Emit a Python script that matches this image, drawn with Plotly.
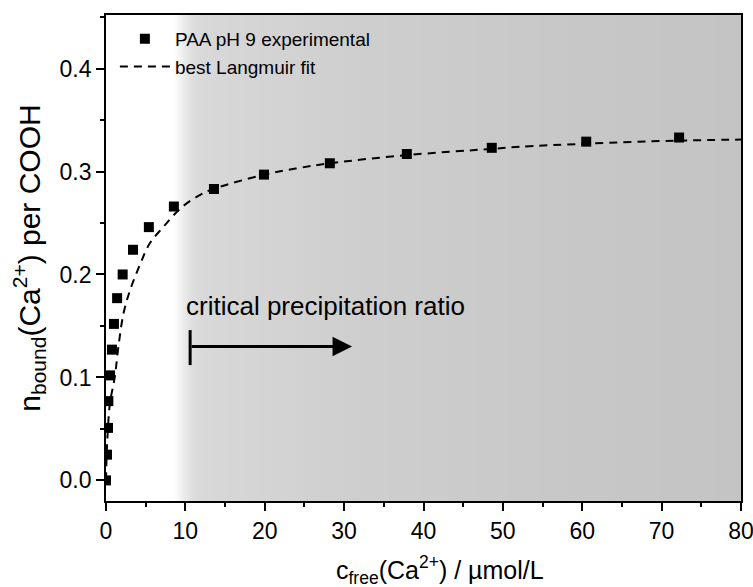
import plotly.graph_objects as go

# ---------------- data ----------------
c_free_exp = [0.0, 0.13, 0.25, 0.3, 0.5, 0.75, 1.0, 1.4, 2.1, 3.4, 5.4, 8.55,
              13.6, 19.9, 28.2, 37.9, 48.6, 60.5, 72.2]
n_bound_exp = [0.0, 0.025, 0.051, 0.077, 0.102, 0.127, 0.152, 0.177, 0.200,
               0.224, 0.246, 0.266, 0.283, 0.297, 0.308, 0.317, 0.323, 0.329, 0.333]
n_bound_err = [0.001, 0.001, 0.001, 0.001, 0.001, 0.001, 0.001, 0.001, 0.001,
               0.001, 0.001, 0.001, 0.002, 0.002, 0.002, 0.002, 0.003, 0.003, 0.003]

# best Langmuir fit
c_fit = [0.0, 0.16, 0.5, 1.1, 1.55, 2.2, 3.0, 4.3, 5.5, 7.2, 9.5, 11.8, 13.5,
         20.0, 24.4, 28.2, 38.0, 48.6, 52.1, 60.5, 72.0, 80.0]
n_fit = [0.0, 0.039, 0.075, 0.100, 0.129, 0.162, 0.184, 0.210, 0.230, 0.246,
         0.265, 0.277, 0.283, 0.297, 0.3035, 0.308, 0.316, 0.322, 0.324, 0.327,
         0.330, 0.331]

# background shading (grey level vs c_free)
shade_x = [0, 8.3, 8.8, 9.3, 9.8, 10.3, 10.8, 11.8, 14.0, 20.0, 30.0, 45.0, 60.0, 80.0]
shade_level = [255, 255, 250, 242, 234, 227, 222, 217, 215, 212, 207, 203, 199, 196]

critical_ratio_x = 10.6
arrow_end_x = 31.0

x_ticks = [0, 10, 20, 30, 40, 50, 60, 70, 80]
y_ticks = [0.0, 0.1, 0.2, 0.3, 0.4]

X_RANGE = [0, 80]
Y_RANGE = [-0.02, 0.452]

FONT = "Liberation Sans, Arial, sans-serif"

fig = go.Figure()

fig.add_trace(go.Heatmap(
    x=shade_x,
    y=Y_RANGE,
    z=[shade_level, shade_level],
    zmin=190, zmax=255,
    colorscale=[[0, "rgb(190,190,190)"], [1, "rgb(255,255,255)"]],
    zsmooth="best", showscale=False, hoverinfo="skip", showlegend=False,
))

fig.add_trace(go.Scatter(
    x=c_free_exp, y=n_bound_exp, mode="markers",
    name="PAA pH 9 experimental",
    marker=dict(symbol="square", size=10, color="black"),
    error_y=dict(type="data", array=n_bound_err, color="black", thickness=1.5, width=4),
    legendgroup="a",
))

fig.add_trace(go.Scatter(
    x=c_fit, y=n_fit, mode="lines", line_shape="spline",
    name="best Langmuir fit",
    line=dict(color="black", width=2, dash="8px,6px"),
    legendgroup="b",
))

# arrow for critical precipitation ratio
fig.add_annotation(
    x=arrow_end_x, y=0.13, ax=critical_ratio_x, ay=0.13,
    xref="x", yref="y", axref="x", ayref="y",
    text="", showarrow=True, arrowhead=2, arrowsize=1.3, arrowwidth=3,
    arrowcolor="black", standoff=0, startstandoff=0,
)
fig.add_shape(type="line", x0=critical_ratio_x, x1=critical_ratio_x,
              y0=0.112, y1=0.146, xref="x", yref="y",
              line=dict(color="black", width=3))
fig.add_annotation(
    x=critical_ratio_x - 0.75, y=0.169, xref="x", yref="y",
    text="critical precipitation ratio", showarrow=False,
    xanchor="left", yanchor="middle",
    font=dict(family=FONT, size=26, color="black"),
)

# x-axis title (placed as annotation to match horizontal offset)
fig.add_annotation(
    x=0.526, y=-0.142, xref="paper", yref="paper",
    text="c<sub>free</sub>(Ca<sup>2+</sup>) / µmol/L", showarrow=False,
    xanchor="center", yanchor="middle",
    font=dict(family=FONT, size=25, color="black"),
)

axis_common = dict(
    showline=True, linecolor="black", linewidth=1.8, mirror=True,
    ticks="outside", ticklen=8, tickwidth=1.5, tickcolor="black",
    showgrid=False, zeroline=False, automargin=False,
    ticklabeloverflow="allow",
    tickfont=dict(family=FONT, size=23, color="black"),
)

fig.update_xaxes(
    range=X_RANGE, tickvals=x_ticks, ticktext=[str(v) for v in x_ticks],
    minor=dict(ticks="outside", ticklen=4, dtick=5, tickcolor="black", tickwidth=1.5),
    **axis_common,
)
fig.update_yaxes(
    range=Y_RANGE, tickvals=y_ticks, ticktext=[f"{v:.1f}" for v in y_ticks],
    minor=dict(ticks="outside", ticklen=4, dtick=0.05, tickcolor="black", tickwidth=1.5),
    title=dict(text="n<sub>bound</sub>(Ca<sup>2+</sup>) per COOH",
               font=dict(family=FONT, size=30, color="black"), standoff=10),
    **axis_common,
)

fig.update_layout(
    width=753, height=587,
    margin=dict(l=106, r=12, t=15, b=86),
    paper_bgcolor="white", plot_bgcolor="white",
    font=dict(family=FONT, color="black"),
    showlegend=True,
    legend=dict(x=0.014, y=0.99, xanchor="left", yanchor="top",
                bgcolor="rgba(0,0,0,0)", borderwidth=0, itemwidth=50,
                font=dict(family=FONT, size=19, color="black"),
                traceorder="grouped", tracegroupgap=0),
)

fig.write_html("out.html")
